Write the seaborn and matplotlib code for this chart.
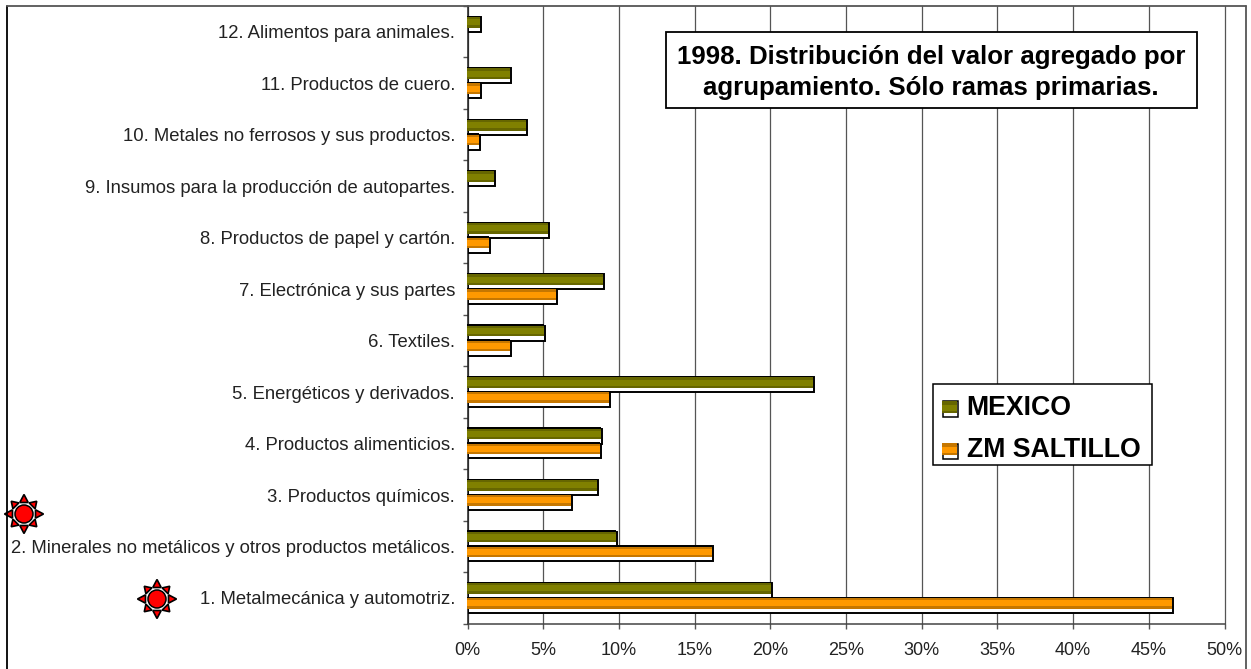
import numpy as np
import pandas as pd
import matplotlib
matplotlib.use("Agg")
import matplotlib.pyplot as plt
import seaborn as sns
from matplotlib.legend_handler import HandlerBase
from matplotlib.lines import Line2D
from matplotlib.patches import Circle, Patch, Polygon, Rectangle
from matplotlib.ticker import PercentFormatter
from matplotlib.transforms import IdentityTransform

categories = [
    "12. Alimentos para animales.",
    "11. Productos de cuero.",
    "10. Metales no ferrosos y sus productos.",
    "9. Insumos para la producción de autopartes.",
    "8. Productos de papel y cartón.",
    "7. Electrónica y sus partes",
    "6. Textiles.",
    "5. Energéticos y derivados.",
    "4. Productos alimenticios.",
    "3. Productos químicos.",
    "2. Minerales no metálicos y otros productos metálicos.",
    "1. Metalmecánica y automotriz.",
]
mexico = [0.9, 2.9, 3.9, 1.8, 5.4, 9.0, 5.1, 22.9, 8.9, 8.6, 9.9, 20.1]
saltillo = [0, 0.9, 0.8, 0, 1.5, 5.9, 2.9, 9.4, 8.8, 6.9, 16.2, 46.6]
series_names = ["MEXICO", "ZM SALTILLO"]
x_ticks = list(range(0, 55, 5))

W, H = 1251, 669
# (bright, shaded) per series
shades = {"MEXICO": ("#808000", "#666600"), "ZM SALTILLO": ("#FF9900", "#C67700")}

sns.set_theme(style="white")
plt.rcParams["font.family"] = ["Liberation Sans", "DejaVu Sans"]

df = pd.DataFrame({
    "cat": categories * 2,
    "serie": [series_names[0]] * 12 + [series_names[1]] * 12,
    "valor": mexico + saltillo,
})

fig = plt.figure(figsize=(W / 100, H / 100), dpi=100)
ax = fig.add_axes([467.5 / W, 1 - 623.7 / H, 757 / W, 617.7 / H])

sns.barplot(data=df, y="cat", x="valor", hue="serie", hue_order=series_names,
            order=categories, width=0.58, gap=0, orient="y", ax=ax,
            palette=["white", "white"], edgecolor="black", linewidth=1.4,
            legend=False, zorder=3)

ax.set_xlim(0, 50)
ax.set_ylim(11.5, -0.5)
ax.set_xlabel("")
ax.set_ylabel("")

# one pixel expressed in data units, for the small bevel offset of the bars
px_x = 50 / 757
px_y = 12 / 617.7
n = len(categories)
for i, patch in enumerate(ax.patches[:2 * n]):
    w = patch.get_width()
    if w == 0:
        patch.set_visible(False)
        continue
    bright, shaded = shades[series_names[i // n]]
    x0, y0 = patch.get_x(), patch.get_y()
    bands = [("black", -1.2, 1.4), (shaded, 0.2, 2.4), (bright, 2.4, 6.0), (shaded, 8.4, 2.4)]
    for color, top, size in bands:
        ax.add_patch(Rectangle((x0 - px_x, y0 + top * px_y), w, size * px_y,
                               facecolor=color, edgecolor="none", zorder=4, clip_on=False))

ax.xaxis.set_major_formatter(PercentFormatter(decimals=0))
ax.set_xticks(x_ticks)
ax.grid(axis="x", color="#555555", linewidth=0.9)
for gl in ax.get_xgridlines():
    gl.set_clip_on(False)
ax.set_axisbelow(True)
ax.set_yticks(np.arange(-0.5, 12, 1), minor=True)
ax.tick_params(axis="y", which="major", length=0, pad=12.5 * 0.72, labelsize=13.3, labelcolor="#222222")
ax.tick_params(axis="y", which="minor", length=5 * 0.72, width=1, color="#555555", left=True)
ax.tick_params(axis="x", length=5 * 0.72, width=1, color="#555555", bottom=True, pad=13 * 0.72,
               labelsize=13, labelcolor="#222222")

ax.spines["top"].set_visible(False)
ax.spines["right"].set_visible(False)
ax.spines["left"].set_color("#222222")
ax.spines["left"].set_linewidth(1.1)
ax.spines["bottom"].set_color("#444444")
ax.spines["bottom"].set_linewidth(1.1)


def pixel_line(xs, ys, color, lw=1.1):
    fig.add_artist(Line2D(xs, [H - y for y in ys], color=color, linewidth=lw,
                          transform=IdentityTransform()))


# outer chart frame, it has no bottom edge inside the picture
pixel_line([6.5, 6.5], [5.5, 669], "black", 1.3)
pixel_line([6.5, 1246], [5.5, 5.5], "#555555", 1.3)
pixel_line([1246, 1246], [5.5, 669], "#555555", 1.3)


def draw_sun(cx, cy):
    for k in range(8):
        a = k * np.pi / 4
        d = np.array([np.cos(a), np.sin(a)])
        n_ = np.array([-d[1], d[0]])
        c = np.array([cx, H - cy])
        tip = 19.5 if k % 2 == 0 else 18
        pts = [c + d * tip, c + d * 11.5 + n_ * 4.2, c + d * 11.5 - n_ * 4.2]
        fig.add_artist(Polygon(pts, closed=True, facecolor="red", edgecolor="black",
                               linewidth=1.2, transform=IdentityTransform()))
    fig.add_artist(Circle((cx, H - cy), 9, facecolor="red", edgecolor="black",
                          linewidth=1.1, transform=IdentityTransform()))


draw_sun(24, 514)
draw_sun(157, 599)

# title box
fig.add_artist(Rectangle((666, H - 107.5), 530.5, 75.5, facecolor="white", edgecolor="black",
                         linewidth=1.3, transform=IdentityTransform(), zorder=5))
fig.text(931 / W, 1 - 72.5 / H, "1998. Distribución del valor agregado por\nagrupamiento. Sólo ramas primarias.",
         ha="center", va="center", fontsize=18.6, fontweight="bold", color="black",
         linespacing=1.38, zorder=6)


class BevelHandler(HandlerBase):
    def create_artists(self, legend, orig_handle, xdescent, ydescent, width, height, fontsize, trans):
        bright, shaded = orig_handle.get_facecolor(), orig_handle.get_edgecolor()
        s = 11.0
        x, y = -0.7, -1.0
        box = Rectangle((x, y), s, s, facecolor="white", edgecolor="black", linewidth=1.1, transform=trans)
        shade = Rectangle((x - 0.7, y + s * 0.25), s, s * 0.8, facecolor=shaded, edgecolor="none", transform=trans)
        face = Rectangle((x - 0.7, y + s * 0.38), s, s * 0.4, facecolor=bright, edgecolor="none", transform=trans)
        return [box, shade, face]


ax.add_patch(Rectangle((932.5, H - 465), 219.5, 81, facecolor="white", edgecolor="black",
                       linewidth=1.1, transform=IdentityTransform(), zorder=9, clip_on=False))
handles = [Patch(facecolor=shades[s][0], edgecolor=shades[s][1], label=s) for s in series_names]
leg = ax.legend(handles=handles, handler_map={Patch: BevelHandler()},
                loc="upper left", bbox_to_anchor=(932.5 / W, 1 - 384 / H),
                bbox_transform=fig.transFigure, borderaxespad=0,
                prop={"size": 19.2, "weight": "bold"}, frameon=False,
                handlelength=0.65, handletextpad=0.21,
                labelspacing=0.61, borderpad=0.42, labelcolor="black")
leg.set_zorder(10)

fig.savefig("out.png", dpi=100)
